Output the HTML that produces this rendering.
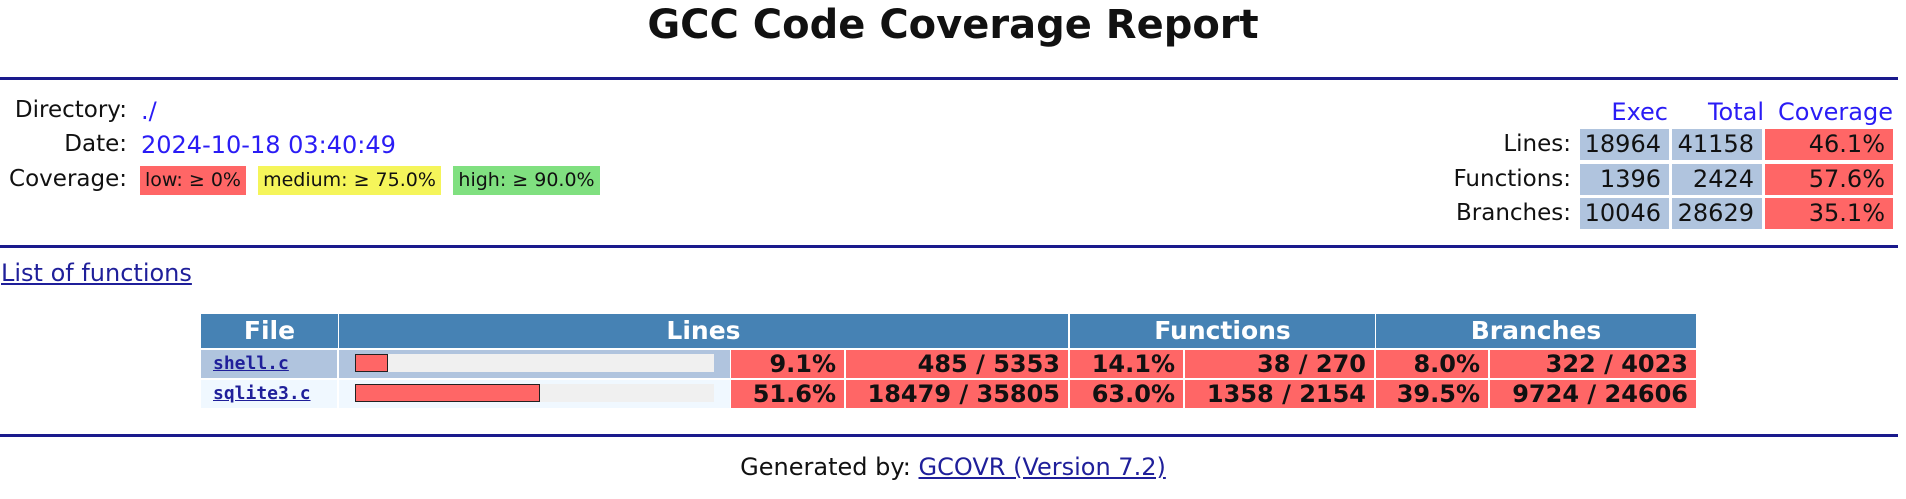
<!DOCTYPE html>
<html><head><meta charset="utf-8"><style>
body{margin:0;width:1906px;height:499px;background:#fff;font-family:"DejaVu Sans","Liberation Sans",sans-serif;color:#111;position:relative;overflow:hidden}
.a{position:absolute;white-space:nowrap}
.hr{position:absolute;left:0;width:1898px;height:3px;background:#1a1a8c}
.lbl{font-size:23px;text-align:right}
.val{font-size:24px;color:#2a1cf5}
.badge{font-size:19px;height:29px;line-height:29px;text-align:center}
.cell{position:absolute;box-sizing:border-box;font-size:24px;line-height:31px;text-align:right;padding-right:8px}
.th{position:absolute;background:#4682b4;color:#fff;font-weight:bold;font-size:25px;text-align:center;line-height:34px;height:34px}
.td{position:absolute;background:#ff6666;font-weight:bold;font-size:24px;text-align:right;line-height:28px;height:28px;box-sizing:border-box;padding-right:8px}
a{color:inherit}
</style></head><body>
<div class="a" style="left:0;width:1906px;text-align:center;top:0px;font-size:40px;font-weight:bold;line-height:50px">GCC Code Coverage Report</div>
<div class="hr" style="top:77px"></div>

<div class="a lbl" style="right:1779px;top:97px">Directory:</div>
<div class="a val" style="left:141px;top:97px">./</div>
<div class="a lbl" style="right:1779px;top:131px">Date:</div>
<div class="a val" style="left:141px;top:131px">2024-10-18 03:40:49</div>
<div class="a lbl" style="right:1779px;top:166px">Coverage:</div>
<div class="a badge" style="left:140px;top:166px;width:106px;background:#ff6666">low: ≥ 0%</div>
<div class="a badge" style="left:258px;top:166px;width:183px;background:#f5f55a">medium: ≥ 75.0%</div>
<div class="a badge" style="left:453px;top:166px;width:147px;background:#80e080">high: ≥ 90.0%</div>

<div class="a val" style="right:238px;top:98px">Exec</div>
<div class="a val" style="right:142px;top:98px">Total</div>
<div class="a val" style="right:13px;top:98px">Coverage</div>
<div id="summary"></div>

<div class="hr" style="top:245px"></div>
<a class="a" href="#" style="left:1px;top:259px;font-size:24px;color:#1f1f9a">List of functions</a>

<div id="tbl"></div>

<div class="hr" style="top:434px"></div>
<div class="a" style="left:0;width:1906px;text-align:center;top:453px;font-size:24px">Generated by: <a href="#" style="color:#1f1f9a">GCOVR (Version 7.2)</a></div>

<script>
const summaryLabels=["Lines:","Functions:","Branches:"];
const summaryExec=[18964,1396,10046];
const summaryTotal=[41158,2424,28629];
const summaryCov=["46.1%","57.6%","35.1%"];
const files=["shell.c","sqlite3.c"];
const linePct=[9.1,51.6];
const lineCnt=["485 / 5353","18479 / 35805"];
const funcPct=["14.1%","63.0%"];
const funcCnt=["38 / 270","1358 / 2154"];
const brPct=["8.0%","39.5%"];
const brCnt=["322 / 4023","9724 / 24606"];

const S=document.getElementById('summary');
const rowTops=[129,164,198];
function mk(parent,cls,style,text){const d=document.createElement('div');d.className=cls;d.setAttribute('style',style);if(text!==undefined)d.textContent=text;parent.appendChild(d);return d;}
summaryLabels.forEach((l,i)=>{
  const t=rowTops[i];
  let e=mk(S,'a lbl',`right:335px;top:${t}px;line-height:31px`,l);
  
  
  e=mk(S,'cell',`left:1580px;top:${t}px;width:89px;height:31px;background:#b0c4de`,summaryExec[i]);
  
  
  e=mk(S,'cell',`left:1672px;top:${t}px;width:90px;height:31px;background:#b0c4de`,summaryTotal[i]);
  
  
  e=mk(S,'cell',`left:1765px;top:${t}px;width:128px;height:31px;background:#ff6666`,summaryCov[i]);
  
  
});

const T=document.getElementById('tbl');
const hdr=[["File",201,137],["Lines",339,729],["Functions",1070,305],["Branches",1376,320]];
hdr.forEach(h=>{
  const e=mk(T,'th',`left:${h[1]}px;top:314px;width:${h[2]}px`,h[0]);
  
  
});
const barX=355,barW=359;
files.forEach((f,i)=>{
  const t=350+i*30;
  const bg=i===0?'#b0c4de':'#f0f8ff';
  let e=mk(T,'td',`left:201px;top:${t}px;width:136px;background:${bg};text-align:left;padding-left:12px;font-family:'DejaVu Sans Mono',monospace;font-size:18px`);
  
  
  const a=document.createElement('a');a.href='#';a.textContent=f;a.style.color='#1f1f9a';
  
  
  e.appendChild(a);
  e=mk(T,'td',`left:339px;top:${t}px;width:391px;background:${bg}`);
  
  
  e=mk(T,'a',`left:${barX}px;top:${t+4}px;width:${barW}px;height:18px;background:#f0f0f0`);
  
  
  e=mk(T,'a',`left:${barX}px;top:${t+4}px;width:${barW*linePct[i]/100}px;height:18px;background:#ff6666;border:1.5px solid #222;box-sizing:border-box`);
  
  
  const cells=[[731,113,linePct[i].toFixed(1)+'%'],[846,222,lineCnt[i]],[1070,113,funcPct[i]],[1185,189,funcCnt[i]],[1376,112,brPct[i]],[1490,206,brCnt[i]]];
  const names=['line-pct','line-count','func-pct','func-count','branch-pct','branch-count'];
  cells.forEach((c,j)=>{
    const d=mk(T,'td',`left:${c[0]}px;top:${t}px;width:${c[1]}px`,c[2]);
    
    
  });
});
</script>
</body></html>
